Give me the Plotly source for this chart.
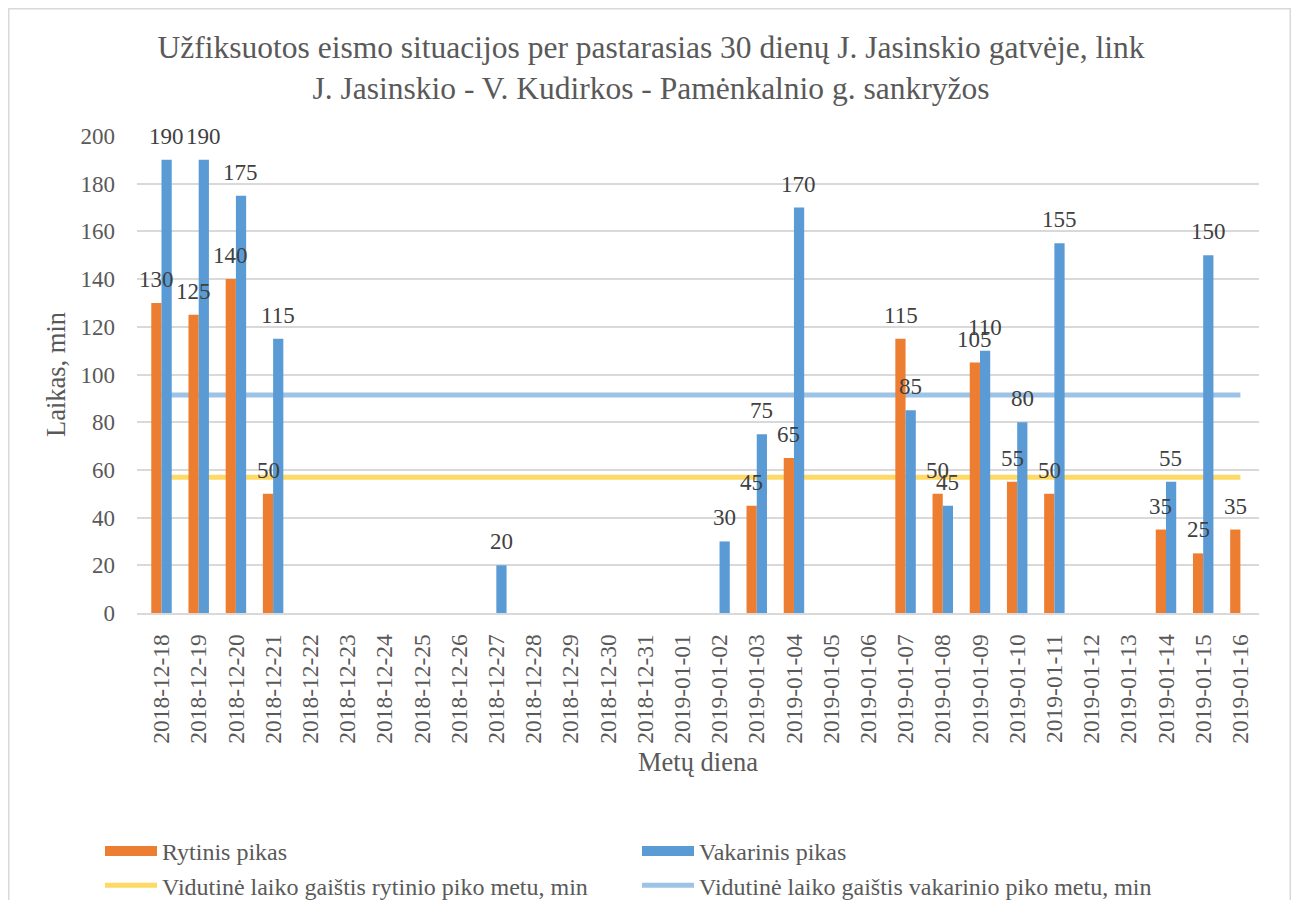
import plotly.graph_objects as go

dates = ["2018-12-18", "2018-12-19", "2018-12-20", "2018-12-21", "2018-12-22", "2018-12-23",
         "2018-12-24", "2018-12-25", "2018-12-26", "2018-12-27", "2018-12-28", "2018-12-29",
         "2018-12-30", "2018-12-31", "2019-01-01", "2019-01-02", "2019-01-03", "2019-01-04",
         "2019-01-05", "2019-01-06", "2019-01-07", "2019-01-08", "2019-01-09", "2019-01-10",
         "2019-01-11", "2019-01-12", "2019-01-13", "2019-01-14", "2019-01-15", "2019-01-16"]

rytinis = [130, 125, 140, 50, None, None, None, None, None, None, None, None, None, None, None,
           None, 45, 65, None, None, 115, 50, 105, 55, 50, None, None, 35, 25, 35]
vakarinis = [190, 190, 175, 115, None, None, None, None, None, 20, None, None, None, None, None,
             30, 75, 170, None, None, 85, 45, 110, 80, 155, None, None, 55, 150, None]

avg_rytinis = 56.9
avg_vakarinis = 91.4

title_text = ("Užfiksuotos eismo situacijos per pastarasias 30 dienų J. Jasinskio gatvėje, link<br>"
              "J. Jasinskio - V. Kudirkos - Pamėnkalnio g. sankryžos")

FONT = "Liberation Serif, Times New Roman, serif"
GREY = "#595959"
ORANGE = "#ED7D31"
BLUE = "#5B9BD5"

# page body has an 8px margin; figure coordinates are screen - 8
W, H = 1283, 892
L, R, T, B = 129, 32, 128, 287
pw = W - L - R
ph = H - T - B


def fx(X):
    return ((X - 8) - L) / pw


def fy(Y):
    return ((H - B) - (Y - 8)) / ph


fig = go.Figure()
# average lines on the base axes (drawn beneath the bars)
fig.add_trace(go.Scatter(
    x=dates, y=[avg_rytinis] * len(dates), mode="lines",
    name="Vidutinė laiko gaištis rytinio piko metu, min",
    line=dict(color="#FFD966", width=5), cliponaxis=False, legendrank=3,
))
fig.add_trace(go.Scatter(
    x=dates, y=[avg_vakarinis] * len(dates), mode="lines",
    name="Vidutinė laiko gaištis vakarinio piko metu, min",
    line=dict(color="#9DC3E6", width=5), cliponaxis=False, legendrank=4,
))
# bars on an overlaying subplot so they sit on top of the lines
fig.add_trace(go.Bar(x=dates, y=rytinis, name="Rytinis pikas", marker_color=ORANGE,
                     marker_line_width=0, showlegend=False, legendgroup="r",
                     xaxis="x2", yaxis="y2"))
fig.add_trace(go.Bar(x=dates, y=vakarinis, name="Vakarinis pikas", marker_color=BLUE,
                     marker_line_width=0, showlegend=False, legendgroup="v",
                     xaxis="x2", yaxis="y2"))
# legend proxies drawn as wide rectangles like the reference
fig.add_trace(go.Scatter(x=[None], y=[None], mode="lines", name="Rytinis pikas",
                         line=dict(color=ORANGE, width=14), legendgroup="r", legendrank=1))
fig.add_trace(go.Scatter(x=[None], y=[None], mode="lines", name="Vakarinis pikas",
                         line=dict(color=BLUE, width=14), legendgroup="v", legendrank=2))

annotations = []
for vals, shift in ((rytinis, -5), (vakarinis, 5)):
    for d, v in zip(dates, vals):
        if v is None:
            continue
        annotations.append(dict(x=d, y=v, xref="x2", yref="y2", text=str(v), showarrow=False,
                                xanchor="center", yanchor="bottom", xshift=shift, yshift=9,
                                font=dict(family=FONT, size=23, color="#404040")))

fig.update_layout(
    width=W, height=H,
    margin=dict(l=L, r=R, t=T, b=B, autoexpand=False),
    paper_bgcolor="white", plot_bgcolor="white",
    font=dict(family=FONT, color=GREY),
    title=dict(text=title_text, x=643 / W, xref="container", xanchor="center",
               y=1 - 50 / H, yref="container", yanchor="middle",
               font=dict(family=FONT, size=31.5, color=GREY)),
    barmode="group", bargap=0.45, bargroupgap=0,
    showlegend=True,
    legend=dict(orientation="h", x=fx(100), xanchor="left", y=fy(829), yanchor="top",
                entrywidth=470, entrywidthmode="pixels", itemwidth=52,
                font=dict(family=FONT, size=24, color=GREY), bgcolor="rgba(0,0,0,0)",
                traceorder="normal"),
    xaxis=dict(type="category", categoryorder="array", categoryarray=dates,
               tickangle=-90, showgrid=False,
               showline=True, linecolor="#D9D9D9", linewidth=1.5,
               tickfont=dict(family=FONT, size=23.5, color=GREY),
               ticks="", ticklabelstandoff=10, automargin=False,
               title=dict(text="Metų diena", font=dict(family=FONT, size=26.5, color=GREY),
                          standoff=10)),
    yaxis=dict(range=[0, 200], dtick=20, showgrid=True, gridcolor="#D9D9D9", gridwidth=1.5,
               zeroline=False, showline=False,
               tickfont=dict(family=FONT, size=23, color=GREY),
               ticks="", ticklabelstandoff=21, automargin=False,
               title=dict(text="Laikas, min", font=dict(family=FONT, size=26.5, color=GREY),
                          standoff=7)),
    xaxis2=dict(type="category", categoryorder="array", categoryarray=dates,
                overlaying="x", matches="x", visible=False, showgrid=False),
    yaxis2=dict(range=[0, 200], overlaying="y", matches="y", visible=False, showgrid=False),
    annotations=annotations,
    shapes=[dict(type="rect", xref="paper", yref="paper",
                 x0=fx(8.75), x1=fx(1290.25), y0=fy(905), y1=fy(8.75),
                 line=dict(color="#D9D9D9", width=1.5), fillcolor="rgba(0,0,0,0)",
                 layer="below")],
)

fig.write_html("out.html")
